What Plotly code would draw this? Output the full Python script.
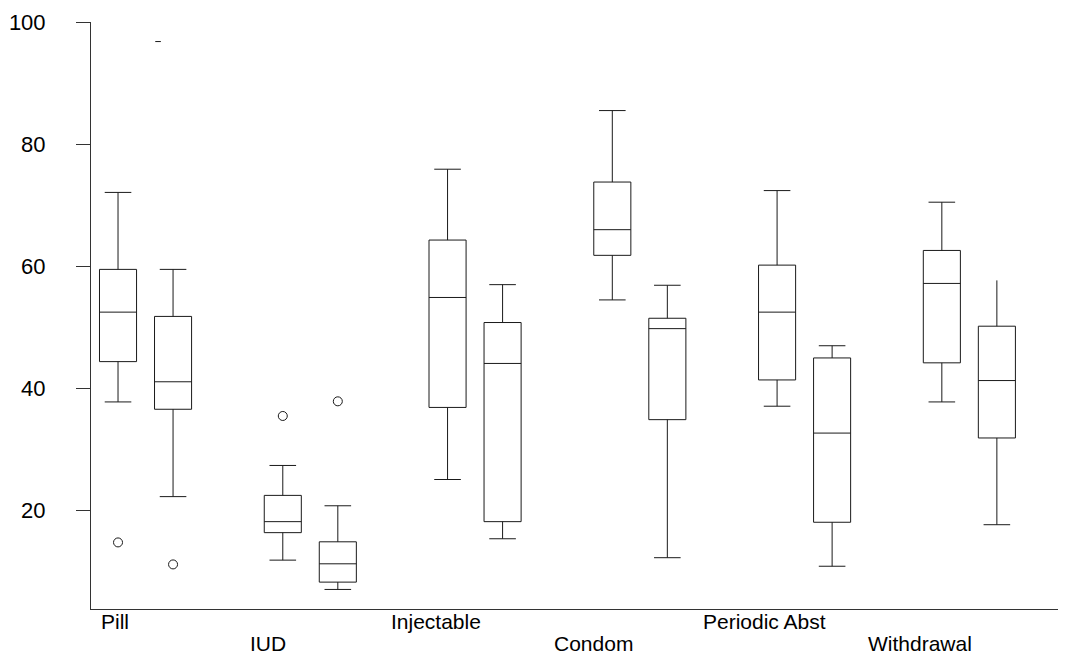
import plotly.graph_objects as go

methods = ["Pill", "IUD", "Injectable", "Condom", "Periodic Abst", "Withdrawal"]

# Left box of each pair: whisker ends, quartiles and median
a_lower = [37.8, 11.9, 25.1, 54.5, 37.1, 37.8]
a_q1 = [44.4, 16.4, 36.9, 61.8, 41.4, 44.2]
a_median = [52.5, 18.2, 54.9, 66.0, 52.5, 57.2]
a_q3 = [59.5, 22.5, 64.3, 73.8, 60.2, 62.6]
a_upper = [72.1, 27.4, 75.9, 85.5, 72.4, 70.5]

# Right box of each pair
b_lower = [22.3, 7.1, 15.4, 12.3, 10.9, 17.7]
b_q1 = [36.6, 8.3, 18.2, 34.9, 18.1, 31.9]
b_median = [41.1, 11.3, 44.1, 49.8, 32.7, 41.3]
b_q3 = [51.8, 14.9, 50.8, 51.5, 45.0, 50.2]
b_upper = [59.5, 20.8, 57.0, 56.9, 47.0, 57.7]
b_upper_capped = [True, True, True, True, True, False]

# Outlying points (method index, value)
a_outlier_method = [0, 1]
a_outlier_value = [14.8, 35.5]
b_outlier_method = [0, 1]
b_outlier_value = [11.2, 37.9]

# Stray extreme value marked with a dash
dash_method = [0]
dash_value = [96.8]

# Layout constants
OFFSET = 0.167
BOX_W = 0.225
CAP_PX = 19
LINE = "#1a1a1a"
FONT = "Liberation Sans, Arial, sans-serif"
label_x = [-0.185, 0.744, 1.765, 2.719, 3.758, 4.699]
label_row = [0, 1, 0, 1, 0, 1]

pos_a = [i - OFFSET for i in range(len(methods))]
pos_b = [i + OFFSET for i in range(len(methods))]

fig = go.Figure()

box_style = dict(
    width=BOX_W,
    whiskerwidth=0,
    fillcolor="white",
    line=dict(color=LINE, width=1),
    boxpoints=False,
    showlegend=False,
    hoverinfo="skip",
)

fig.add_trace(go.Box(x=pos_a, q1=a_q1, median=a_median, q3=a_q3,
                     lowerfence=a_lower, upperfence=a_upper, **box_style))
fig.add_trace(go.Box(x=pos_b, q1=b_q1, median=b_median, q3=b_q3,
                     lowerfence=b_lower, upperfence=b_upper, **box_style))

# Whisker caps
cap_x = pos_a + pos_a + pos_b
cap_y = a_lower + a_upper + b_lower
for x, y, keep in zip(pos_b, b_upper, b_upper_capped):
    if keep:
        cap_x.append(x)
        cap_y.append(y)
fig.add_trace(go.Scatter(
    x=cap_x, y=cap_y, mode="markers",
    marker=dict(symbol="line-ew", size=CAP_PX, line=dict(color=LINE, width=1)),
    showlegend=False, hoverinfo="skip",
))

# Outliers
out_x = [pos_a[m] for m in a_outlier_method] + [pos_b[m] for m in b_outlier_method]
out_y = a_outlier_value + b_outlier_value
fig.add_trace(go.Scatter(
    x=out_x, y=out_y, mode="markers",
    marker=dict(symbol="circle-open", size=9, color=LINE, line=dict(width=1)),
    showlegend=False, hoverinfo="skip",
))

fig.add_trace(go.Scatter(
    x=[m + 0.076 for m in dash_method], y=dash_value, mode="markers",
    marker=dict(symbol="line-ew", size=4, line=dict(color=LINE, width=1)),
    showlegend=False, hoverinfo="skip",
))

annotations = []
for name, x, row in zip(methods, label_x, label_row):
    annotations.append(dict(
        x=x, y=0, xref="x", yref="paper", text=name, showarrow=False,
        xanchor="center", yanchor="middle", yshift=-12 - 22 * row,
        borderpad=0,
        font=dict(family=FONT, size=21, color="black"),
    ))

fig.update_layout(
    width=1066, height=656,
    margin=dict(l=91, r=8, t=22, b=47),
    paper_bgcolor="white", plot_bgcolor="white",
    font=dict(family=FONT, size=22, color="black"),
    annotations=annotations,
    xaxis=dict(
        range=[-0.331, 5.538], showgrid=False, zeroline=False,
        showticklabels=False, ticks="", showline=True,
        linecolor="#333333", linewidth=1,
    ),
    yaxis=dict(
        range=[3.9, 100], tickvals=[20, 40, 60, 80, 100],
        ticks="outside", ticklen=14, tickcolor="#333333",
        showgrid=False, zeroline=False, showline=True,
        linecolor="#333333", linewidth=1, ticklabelstandoff=26,
    ),
)

fig.write_html("out.html")
